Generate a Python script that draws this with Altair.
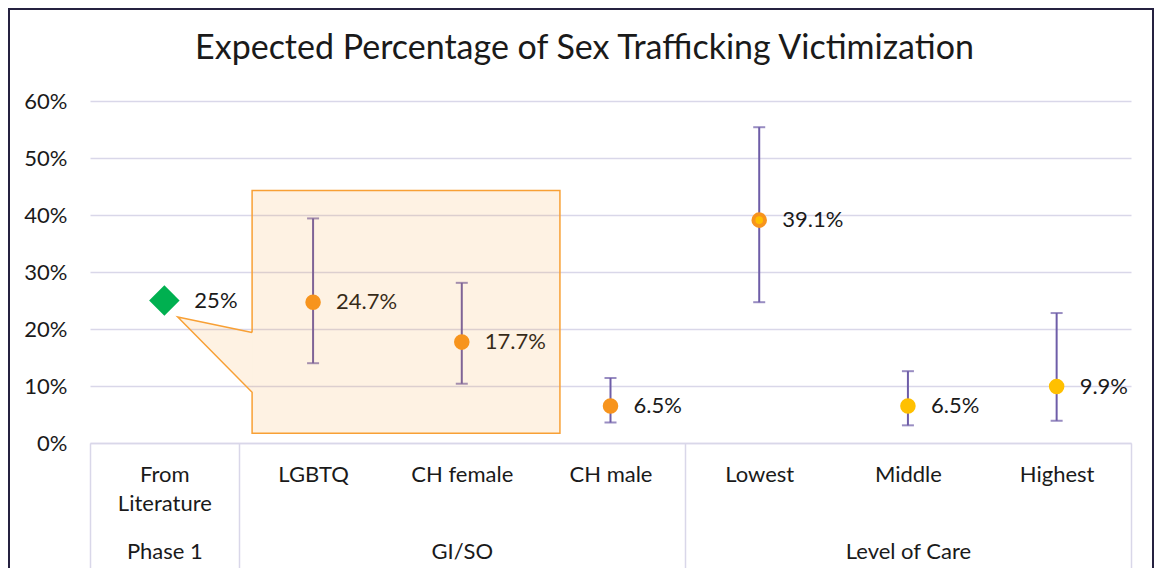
import altair as alt
import pandas as pd

# ---------------- data ----------------
categories = ["From Literature", "LGBTQ", "CH female", "CH male", "Lowest", "Middle", "Highest"]
groups = ["Phase 1", "GI/SO", "GI/SO", "GI/SO", "Level of Care", "Level of Care", "Level of Care"]
values = [25.0, 24.7, 17.7, 6.5, 39.1, 6.5, 9.9]
lower = [None, 14.0, 10.4, 3.6, 24.7, 3.1, 3.9]
upper = [None, 39.4, 28.1, 11.4, 55.4, 12.6, 22.8]
y_ticks = [0, 10, 20, 30, 40, 50, 60]

# callout annotation (x in category-index units, y in percent)
callout_box_x = [1.09, 3.16]
callout_box_y = [1.7, 44.3]
callout_tip = [0.59, 22.1]
callout_base_y = [19.4, 8.9]

# ---------------- styles ----------------
FONT = "Lato"
TXT = "#1a1a1a"
GRID = "#D9D7E9"
PURPLE = "#6E5DA8"
ORANGE = "#F7941D"
YELLOW = "#FFC000"
GREEN = "#00B050"
fill_colors = [GREEN, ORANGE, ORANGE, ORANGE, YELLOW, YELLOW, YELLOW]
stroke_colors = [GREEN, ORANGE, ORANGE, ORANGE, ORANGE, YELLOW, YELLOW]

n = len(categories)
df = pd.DataFrame({"category": categories, "group": groups, "value": values,
                   "lower": lower, "upper": upper})

# group boundaries / centres for the two-level axis
bounds = [0]
for i in range(1, n):
    if groups[i] != groups[i - 1]:
        bounds.append(i)
bounds.append(n)
group_names = [groups[b] for b in bounds[:-1]]
centers = [(bounds[k] + bounds[k + 1]) / 2 for k in range(len(bounds) - 1)]
grp_expr = "''"
for c, g in zip(reversed(centers), reversed(group_names)):
    grp_expr = f"datum.value == {c} ? '{g}' : ({grp_expr})"

# ---------------- scales / axes ----------------
y_scale = alt.Scale(domain=[0, 60], nice=False, zero=True)
y_axis = alt.Axis(title=None, values=y_ticks, labelExpr="datum.value + '%'", ticks=False,
                  domain=False, grid=True, gridColor=GRID, gridWidth=1.5, labelFont=FONT,
                  labelFontSize=22, labelColor=TXT, labelPadding=23)

def Y(field):
    return alt.Y(field, scale=y_scale, axis=y_axis, title=None)

x_cat = alt.X("category:N", sort=categories, title=None,
              scale=alt.Scale(type="point", domain=categories, padding=0.5),
              axis=alt.Axis(orient="bottom", title=None, ticks=False, grid=False, domain=True,
                            domainColor=GRID, domainWidth=1.5, labelAngle=0, labelFont=FONT,
                            labelFontSize=22, labelColor=TXT, labelPadding=21,
                            labelLineHeight=29, labelOverlap=False,
                            labelExpr="length(datum.label) > 10 ? split(datum.label, ' ') : datum.label"))

xq_scale = alt.Scale(domain=[0, n], nice=False, zero=False)
group_axis = alt.Axis(orient="bottom", title=None, values=centers, ticks=False, domain=False,
                      grid=False, labelFont=FONT, labelFontSize=22, labelColor=TXT,
                      labelPadding=98, labelExpr=grp_expr, labelOverlap=False)
sep_axis = alt.Axis(orient="bottom", title=None, values=bounds, ticks=True, tickSize=125,
                    tickColor=GRID, tickWidth=1.5, labels=False, domain=False, grid=False)

# ---------------- main layer ----------------
base = alt.Chart(df)
has_ci = "isValid(datum.lower)"

rules = base.transform_filter(has_ci).mark_rule(color=PURPLE, strokeWidth=2).encode(
    x=x_cat, y=Y("lower:Q"), y2="upper:Q")
cap_lo = base.transform_filter(has_ci).mark_tick(color=PURPLE, thickness=2, size=12).encode(
    x=x_cat, y=Y("lower:Q"))
cap_hi = base.transform_filter(has_ci).mark_tick(color=PURPLE, thickness=2, size=12).encode(
    x=x_cat, y=Y("upper:Q"))

fill_enc = alt.Fill("category:N", scale=alt.Scale(domain=categories, range=fill_colors), legend=None)
stroke_enc = alt.Stroke("category:N", scale=alt.Scale(domain=categories, range=stroke_colors), legend=None)

circles = base.transform_filter(has_ci).mark_circle(size=133, strokeWidth=4, opacity=1).encode(
    x=x_cat, y=Y("value:Q"), fill=fill_enc, stroke=stroke_enc)
diamond = base.transform_filter("!" + has_ci).mark_point(
    shape="diamond", filled=True, size=930, opacity=1).encode(
    x=x_cat, y=Y("value:Q"), fill=fill_enc)

lab_expr = "(datum.value % 1 == 0 ? format(datum.value, 'd') : format(datum.value, '.1f')) + '%'"
text_ci = base.transform_filter(has_ci).transform_calculate(lab=lab_expr).mark_text(
    align="left", baseline="middle", dx=23, font=FONT, fontSize=22, color=TXT).encode(
    x=x_cat, y=Y("value:Q"), text="lab:N")
text_lit = base.transform_filter("!" + has_ci).transform_calculate(lab=lab_expr).mark_text(
    align="left", baseline="middle", dx=30, font=FONT, fontSize=22, color=TXT).encode(
    x=x_cat, y=Y("value:Q"), text="lab:N")

main = alt.layer(rules, cap_lo, cap_hi, circles, diamond, text_ci, text_lit)

# ---------------- callout ----------------
bx0, bx1 = callout_box_x
by0, by1 = callout_box_y
tx, ty = callout_tip
b_hi, b_lo = callout_base_y

box_df = pd.DataFrame({"x0": [bx0], "x1": [bx1], "y0": [by0], "y1": [by1]})
tri_df = pd.DataFrame({"u": [tx, bx0], "top": [ty, b_hi], "bot": [ty, b_lo]})
path = [(bx0, b_hi), (bx0, by1), (bx1, by1), (bx1, by0), (bx0, by0), (bx0, b_lo), (tx, ty), (bx0, b_hi)]
path_df = pd.DataFrame({"i": list(range(len(path))), "px": [p[0] for p in path],
                        "py": [p[1] for p in path]})

box = alt.Chart(box_df).mark_rect(fill=ORANGE, fillOpacity=0.125).encode(
    x=alt.X("x0:Q", scale=xq_scale, axis=group_axis, title=None), x2="x1:Q",
    y=Y("y0:Q"), y2="y1:Q")
tri = alt.Chart(tri_df).mark_area(fill=ORANGE, fillOpacity=0.125).encode(
    x=alt.X("u:Q", scale=xq_scale, axis=group_axis, title=None),
    y=Y("top:Q"), y2="bot:Q")
fill_layer = alt.layer(box, tri)

outline = alt.Chart(path_df).mark_line(color="#F8A035", strokeWidth=1.5, strokeJoin="miter").encode(
    x=alt.X("px:Q", scale=xq_scale, axis=sep_axis, title=None),
    y=Y("py:Q"), order="i:Q")

# chart-area frame (decoration around the whole chart)
frame = alt.Chart(alt.Data(values=[{"k": 1}])).mark_rect(
    filled=False, color="#252140", strokeWidth=2).encode(
    x=alt.value(-81), x2=alt.value(1063), y=alt.value(-92), y2=alt.value(520))

chart = alt.layer(main, fill_layer, outline, frame).resolve_scale(x="independent").properties(
    width=1041, height=342,
    title=alt.TitleParams("Expected Percentage of Sex Trafficking Victimization", font=FONT,
                          fontSize=34, fontWeight="normal", color=TXT, anchor="middle",
                          frame="group", dx=-26, baseline="alphabetic", offset=-85),
    autosize=alt.AutoSizeParams(type="none"),
    padding={"left": 82, "top": 93, "right": 23, "bottom": 125},
).configure_view(stroke=None)

chart.save("out.html", embed_options={"renderer": "svg", "actions": False})
